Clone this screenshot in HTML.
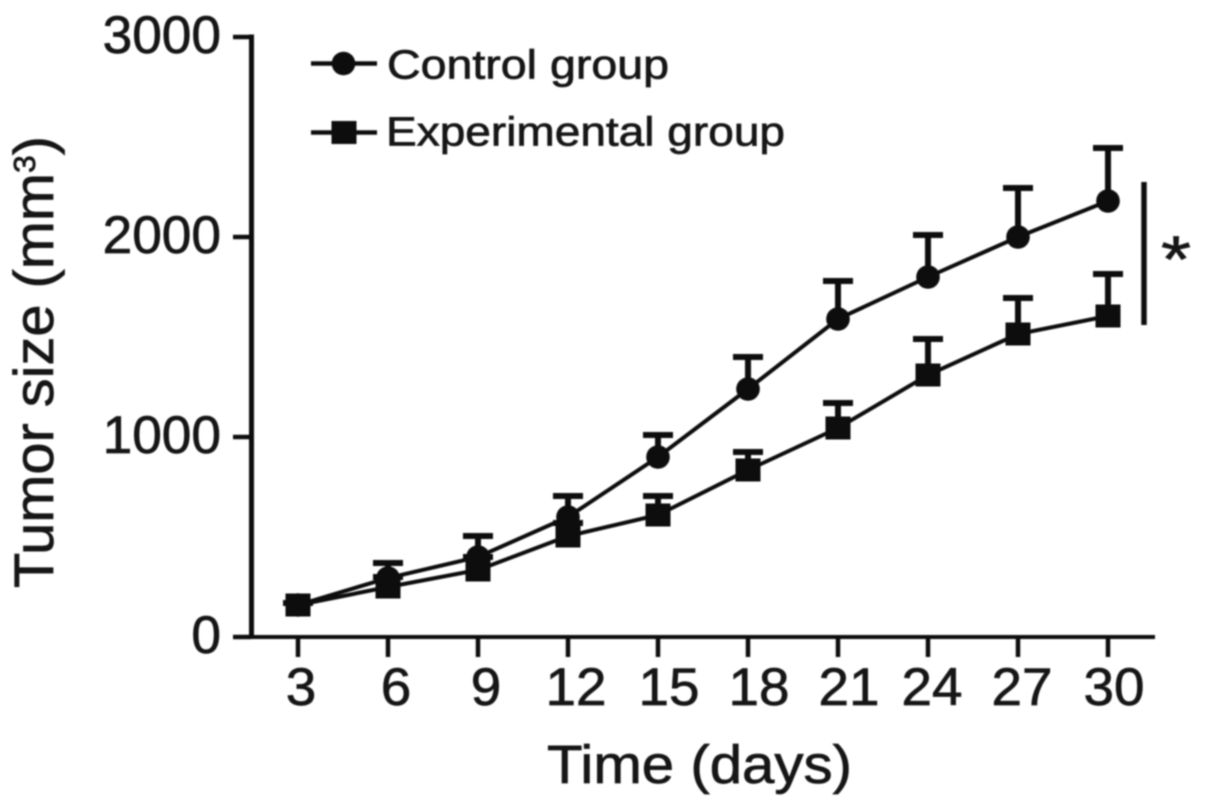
<!DOCTYPE html>
<html>
<head>
<meta charset="utf-8">
<title>Tumor size chart</title>
<style>
html,body{margin:0;padding:0;background:#fff;width:1205px;height:808px;overflow:hidden}
svg{display:block}
text{font-family:"Liberation Sans",sans-serif;fill:#151515;stroke:#151515;stroke-width:0.7px}
</style>
</head>
<body>
<svg id="chart" width="1205" height="808" viewBox="0 0 1205 808" xmlns="http://www.w3.org/2000/svg">
<defs><filter id="soft" x="-5%" y="-5%" width="110%" height="110%"><feGaussianBlur stdDeviation="0.8"/></filter></defs>
<rect width="1205" height="808" fill="#fff"/>
<g id="root" filter="url(#soft)"></g>
</svg>
<script>
const days = [3, 6, 9, 12, 15, 18, 21, 24, 27, 30];
const yTicks = [0, 1000, 2000, 3000];
const controlValues = [160, 295, 400, 600, 900, 1240, 1590, 1800, 2000, 2180];
const controlErrorTops = [170, 370, 505, 705, 1010, 1400, 1780, 2010, 2245, 2445];
const experimentalValues = [160, 250, 335, 505, 610, 835, 1045, 1310, 1515, 1605];
const experimentalErrorTops = [170, 300, 400, 570, 705, 925, 1170, 1490, 1695, 1815];

const NS = 'http://www.w3.org/2000/svg';
const root = document.getElementById('root');
function xScale(d) { return 298 + (d - 3) * 30; }
function yScale(v) { return 637 - v * 0.2; }
function mk(tag, attrs, name, parent) {
  const el = document.createElementNS(NS, tag);
  for (const k in attrs) el.setAttribute(k, attrs[k]);
  
  
  (parent || root).appendChild(el);
  return el;
}
function seg(x1, y1, x2, y2, w, name) {
  return mk('line', {x1, y1, x2, y2, stroke: '#111', 'stroke-width': w}, name);
}
function label(str, x, y, size, anchor, len, name) {
  const t = mk('text', {x, y, 'font-size': size, 'text-anchor': anchor, textLength: len, lengthAdjust: 'spacingAndGlyphs'}, name);
  t.textContent = str;
  return t;
}
function tickLabelShift(d) {
  if (d === 3) return 3;
  if (d <= 12) return 8;
  if (d <= 21) return 11;
  return d === 30 ? 6 : 4;
}

// axes
seg(251.5, 34.5, 251.5, 639, 5, 'y-axis-line');
seg(249, 637, 1155, 637, 4, 'x-axis-line');
yTicks.forEach(function (v) {
  seg(233, yScale(v), 251, yScale(v), 4.5, 'y-tick-' + v);
  label(String(v), 221, yScale(v) + 16, 53, 'end', String(v).length * 29.6, 'y-tick-label-' + v);
});
days.forEach(function (d) {
  seg(xScale(d), 637, xScale(d), 657, 4.5, 'x-tick-' + d);
  const s = String(d);
  label(s, xScale(d) + tickLabelShift(d), 705, 53, 'middle', s.length * 30.5, 'x-tick-label-' + d);
});

// series
function marker(x, y, shape, name) {
  if (shape === 'circle') {
    mk('circle', {cx: x, cy: y, r: 11.8, fill: '#0a0a0a'}, name);
  } else {
    mk('rect', {x: x - 12.5, y: y - 11.5, width: 25, height: 23, fill: '#0a0a0a'}, name);
  }
}
function drawSeries(values, tops, shape, key) {
  const pts = values.map(function (v, i) { return xScale(days[i]) + ',' + yScale(v); }).join(' ');
  mk('polyline', {points: pts, fill: 'none', stroke: '#111', 'stroke-width': 4}, key + '-line');
  values.forEach(function (v, i) {
    const x = xScale(days[i]);
    seg(x, yScale(v), x, yScale(tops[i]), 6, key + '-error-bar-' + days[i]);
    seg(x - 15, yScale(tops[i]), x + 15, yScale(tops[i]), 6, key + '-error-cap-' + days[i]);
    marker(x, yScale(v), shape, key + '-point-' + days[i]);
  });
}
drawSeries(controlValues, controlErrorTops, 'circle', 'control');
drawSeries(experimentalValues, experimentalErrorTops, 'square', 'experimental');

// legend
seg(311, 63.5, 377, 63.5, 4.5, 'legend-control-line');
marker(343.5, 63.5, 'circle', 'legend-control-marker');
label('Control group', 387, 78.5, 41, 'start', 282, 'legend-control-label');
seg(311, 132.5, 377, 132.5, 4.5, 'legend-experimental-line');
marker(344, 132.5, 'square', 'legend-experimental-marker');
label('Experimental group', 386, 145.5, 41, 'start', 399, 'legend-experimental-label');

// significance
seg(1144, 182, 1144, 325, 5.5, 'significance-bar');
label('*', 1176, 282, 66, 'middle', 30, 'significance-asterisk');

// axis titles
label('Time (days)', 547, 783, 54, 'start', 305, 'x-axis-title');
const yTitle = mk('text', {transform: 'translate(53,588) rotate(-90)', 'font-size': 56}, 'y-axis-title');
const t1 = document.createElementNS(NS, 'tspan');
t1.textContent = 'Tumor size (mm';
yTitle.appendChild(t1);
const t2 = document.createElementNS(NS, 'tspan');
t2.setAttribute('font-size', '31');
t2.setAttribute('dy', '-18');
t2.textContent = '3';
yTitle.appendChild(t2);
const t3 = document.createElementNS(NS, 'tspan');
t3.setAttribute('dy', '18');
t3.textContent = ')';
yTitle.appendChild(t3);
yTitle.setAttribute('textLength', '452');
yTitle.setAttribute('lengthAdjust', 'spacingAndGlyphs');
</script>
</body>
</html>
